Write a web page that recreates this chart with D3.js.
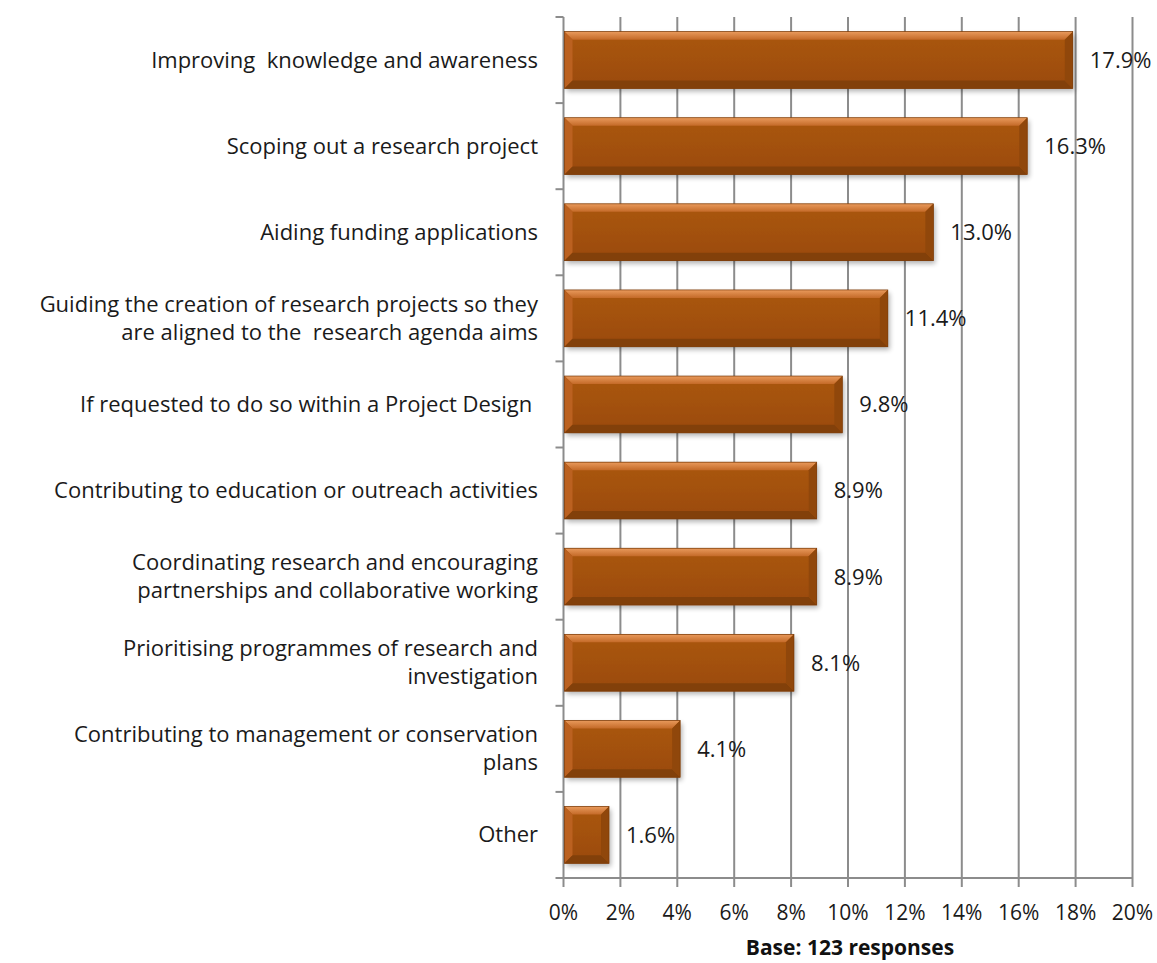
<!DOCTYPE html>
<html><head><meta charset="utf-8">
<script src="https://cdn.jsdelivr.net/npm/d3@7"></script>
<style>body{margin:0;background:#fff}text{font-family:"Open Sans","Liberation Sans",sans-serif;white-space:pre}</style>
</head><body><svg id="c" width="1157" height="963"></svg>
<script>
const categories = [
  ["Improving  knowledge and awareness"],
  ["Scoping out a research project"],
  ["Aiding funding applications"],
  ["Guiding the creation of research projects so they","are aligned to the  research agenda aims"],
  ["If requested to do so within a Project Design "],
  ["Contributing to education or outreach activities"],
  ["Coordinating research and encouraging","partnerships and collaborative working"],
  ["Prioritising programmes of research and","investigation"],
  ["Contributing to management or conservation","plans"],
  ["Other"]
];
const values = [17.9, 16.3, 13.0, 11.4, 9.8, 8.9, 8.9, 8.1, 4.1, 1.6];
const xTicks = [0,2,4,6,8,10,12,14,16,18,20];
const axisTitle = "Base: 123 responses";

const svg = d3.select("#c");
const L = 563.5, R = 1132.5, T = 17, B = 878;
const x = d3.scaleLinear().domain([0,20]).range([L,R]);
const y = d3.scaleBand().domain(d3.range(categories.length)).range([T,B]).paddingInner(0.34).paddingOuter(0.17);
const band = (B-T)/categories.length;

const defs = svg.append("defs");
const f = defs.append("filter").attr("id","sh").attr("x","-10%").attr("y","-10%").attr("width","130%").attr("height","140%");
f.append("feGaussianBlur").attr("in","SourceAlpha").attr("stdDeviation",2.5);
f.append("feOffset").attr("dx",2).attr("dy",3).attr("result","b");
f.append("feComponentTransfer").append("feFuncA").attr("type","linear").attr("slope",0.3);
const m = f.append("feMerge"); m.append("feMergeNode"); m.append("feMergeNode").attr("in","SourceGraphic");
const g1 = defs.append("linearGradient").attr("id","gv").attr("x1",0).attr("y1",0).attr("x2",0).attr("y2",1);
[[0,"#aa560f"],[0.5,"#a3510e"],[1,"#9a4a0c"]].forEach(s=>g1.append("stop").attr("offset",s[0]).attr("stop-color",s[1]));
const gt = defs.append("linearGradient").attr("id","gt").attr("x1",0).attr("y1",0).attr("x2",0).attr("y2",1);
[[0,"#e99a5c"],[1,"#c46a28"]].forEach(s=>gt.append("stop").attr("offset",s[0]).attr("stop-color",s[1]));

const gridC = "#8c8c8c";
svg.append("g").selectAll("line").data(xTicks.slice(1)).join("line")
  .attr("x1",d=>x(d)).attr("x2",d=>x(d)).attr("y1",T).attr("y2",B+9)
  .attr("stroke",gridC).attr("stroke-width",2);
svg.append("line").attr("x1",L).attr("x2",R).attr("y1",B).attr("y2",B).attr("stroke",gridC).attr("stroke-width",2);
svg.append("line").attr("x1",L).attr("x2",L).attr("y1",B).attr("y2",B+9).attr("stroke",gridC).attr("stroke-width",2);
svg.append("line").attr("x1",L).attr("x2",L).attr("y1",T).attr("y2",B).attr("stroke",gridC).attr("stroke-width",2);
svg.append("g").selectAll("line").data(d3.range(categories.length+1)).join("line")
  .attr("x1",L-8).attr("x2",L).attr("y1",d=>T+d*band).attr("y2",d=>T+d*band)
  .attr("stroke",gridC).attr("stroke-width",2);

const bars = svg.append("g").selectAll("g").data(values).join("g");
bars.each(function(v,i){
  const g = d3.select(this);
  const x0 = x(0)+1, x1 = x(v), y0 = y(i), y1 = y(i)+y.bandwidth(), e = 8;
  g.append("rect").attr("x",x0).attr("y",y0).attr("width",x1-x0).attr("height",y1-y0).attr("fill","url(#gv)").attr("filter","url(#sh)");
  const poly = (pts,fill)=>g.append("polygon").attr("points",pts.map(p=>p.join(",")).join(" ")).attr("fill",fill);
  poly([[x0,y0],[x1,y0],[x1-e,y0+e],[x0+e,y0+e]],"url(#gt)");
  poly([[x0,y0],[x0+e,y0+e],[x0+e,y1-e],[x0,y1]],"#bb6120");
  poly([[x0,y1],[x0+e,y1-e],[x1-e,y1-e],[x1,y1]],"#82400a");
  poly([[x1,y0],[x1,y1],[x1-e,y1-e],[x1-e,y0+e]],"#90470b");
  g.append("rect").attr("x",x0).attr("y",y0).attr("width",x1-x0).attr("height",y1-y0).attr("fill","none").attr("stroke","#7a3a08").attr("stroke-width",0.7);
});

svg.append("g").selectAll("text").data(values).join("text")
  .attr("x",d=>x(d)+17).attr("y",(d,i)=>y(i)+y.bandwidth()/2).attr("dy","0.36em")
  .attr("font-size",22).attr("fill","#1a1a1a").text(d=>d.toFixed(1)+"%");

const cl = svg.append("g").selectAll("text").data(categories).join("text")
  .attr("text-anchor","end").attr("font-size",22).attr("fill","#1a1a1a")
  .attr("x",538).attr("y",(d,i)=>y(i)+y.bandwidth()/2);
cl.each(function(lines){
  const t = d3.select(this), n = lines.length, lh = 28;
  lines.forEach((s,k)=>t.append("tspan").attr("x",538).attr("dy", k===0 ? ((-(n-1)/2*lh)+7.5)+"px" : lh+"px").text(s));
});

svg.append("g").selectAll("text").data(xTicks).join("text")
  .attr("x",d=>x(d)).attr("y",920).attr("text-anchor","middle").attr("font-size",21).attr("fill","#1a1a1a")
  .text(d=>d+"%");
svg.append("text").attr("x",850).attr("y",955).attr("text-anchor","middle").attr("font-size",21).attr("font-weight","bold").attr("fill","#111").text(axisTitle);
</script></body></html>
